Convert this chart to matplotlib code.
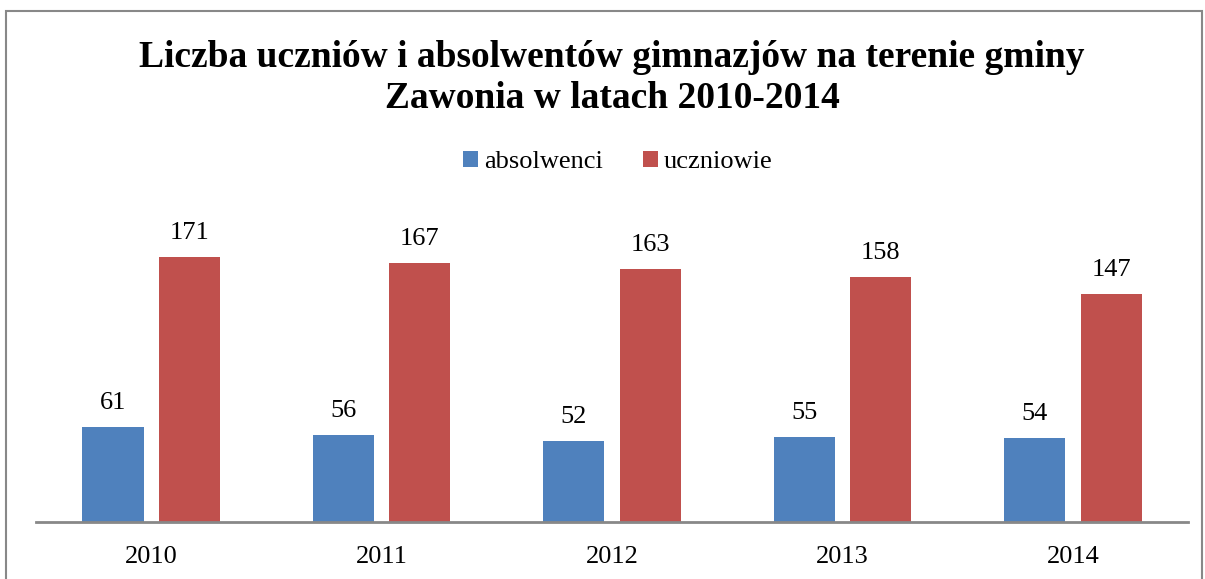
import matplotlib
matplotlib.use("Agg")
from matplotlib import pyplot as plt
from matplotlib.patches import Rectangle
import numpy as np

years = ["2010", "2011", "2012", "2013", "2014"]
absolwenci = [61, 56, 52, 55, 54]
uczniowie = [171, 167, 163, 158, 147]

plt.rcParams["font.family"] = ["Liberation Serif", "DejaVu Serif"]

fig = plt.figure(figsize=(12.05, 5.79), dpi=100)
ax = fig.add_axes([0.0299, 0.0984, 0.956, 0.5354])

x = np.arange(len(years))
w = 0.265
b1 = ax.bar(x - 0.166, absolwenci, w, color="#4F81BD", label="absolwenci")
b2 = ax.bar(x + 0.166, uczniowie, w, color="#C0504D", label="uczniowie")

for bars in (b1, b2):
    for r in bars:
        ax.annotate(str(int(r.get_height())),
                    (r.get_x() + r.get_width() / 2, r.get_height()),
                    xytext=(0, 13), textcoords="offset points",
                    ha="center", va="baseline", fontsize=19)

ax.set_xlim(-0.5, 4.5)
ax.set_ylim(0, 200)
ax.set_xticks(x)
ax.set_xticklabels(years, fontsize=19)
ax.tick_params(axis="x", length=0, pad=17)
ax.set_yticks([])
for s in ["left", "right", "top"]:
    ax.spines[s].set_visible(False)
ax.spines["bottom"].set_color("#888888")
ax.spines["bottom"].set_linewidth(2)

fig.text(0.508, 0.866, "Liczba uczniów i absolwentów gimnazjów na terenie gminy\nZawonia w latach 2010-2014",
         ha="center", va="center", fontsize=27, fontweight="bold", linespacing=1.22)

fig.legend(handles=[b1, b2], loc="center", bbox_to_anchor=(0.513, 0.72), ncol=2,
           frameon=False, fontsize=19, handlelength=0.55, handleheight=0.55,
           handletextpad=0.25, columnspacing=1.5)

fig.patches.append(Rectangle((6 / 1205, -0.05), 1196 / 1205, 1.05 - 11 / 579,
                             transform=fig.transFigure, fill=False,
                             edgecolor="#888888", linewidth=1.5))

plt.savefig("out.png", dpi=100)
